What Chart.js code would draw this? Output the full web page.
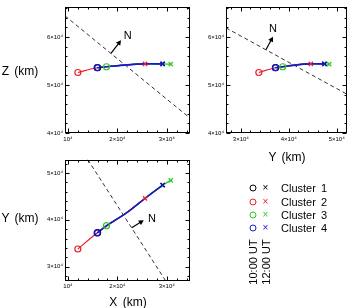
<!DOCTYPE html>
<html>
<head>
<meta charset="utf-8">
<script src="https://cdn.jsdelivr.net/npm/chart.js@4/dist/chart.umd.min.js"></script>
<style>
  body { margin: 0; background: #fff; }
  #wrap { position: relative; width: 352px; height: 308px; overflow: hidden; font-family: "Liberation Sans", Arial, sans-serif; color: #000; }
  canvas { position: absolute; }
  .lab { position: absolute; white-space: nowrap; transform: translate(-50%, -50%); line-height: 1; }
  .ttl { font-size: 12px; word-spacing: 2px; }
  .leg { position: absolute; font-size: 11px; line-height: 1; white-space: nowrap; transform: translateY(-50%); word-spacing: 2px; }
  .dot { position: absolute; width: 5px; height: 5px; border: 1px solid; border-radius: 50%; transform: translate(-50%, -50%); }
  .crs { position: absolute; font-size: 10px; line-height: 1; transform: translate(-50%, -55%); }
  .rot { position: absolute; font-size: 11px; line-height: 1; white-space: nowrap; transform: translate(-50%, -50%) rotate(-90deg); }
</style>
</head>
<body>
<div id="wrap">
  <canvas id="pXZ" width="200" height="154" style="left:0;top:0"></canvas>
  <canvas id="pYZ" width="176" height="154" style="left:176px;top:0"></canvas>
  <canvas id="pXY" width="200" height="154" style="left:0;top:154px"></canvas>
  <div class="lab ttl" style="left:20px;top:71px">Z (km)</div>
  <div class="lab ttl" style="left:287px;top:157px">Y (km)</div>
  <div class="lab ttl" style="left:20px;top:218px">Y (km)</div>
  <div class="lab ttl" style="left:128px;top:302px">X (km)</div>
  <div id="legend"></div>
</div>
<script>
const clusterLabels = ["Cluster 1", "Cluster 2", "Cluster 3", "Cluster 4"];
const clusterColors = ["#000000", "#f01c2c", "#2cc82c", "#1818d0"];
const timeLabels = ["10:00 UT", "12:00 UT"];

// points along each spacecraft track (km), first = 10:00 UT, last = 12:00 UT
const trackX = [
  [16000, 17800, 22000, 25600, 29200],
  [12000, 15900, 22000, 25600],
  [17800, 22000, 25600, 29100, 30800],
  [15900, 17800, 22000, 25600, 29100]
];
const trackY = [
  [37250, 38750, 41600, 44600, 47450],
  [33750, 37200, 41600, 44600],
  [38750, 41600, 44600, 47400, 48450],
  [37200, 38750, 41600, 44600, 47400]
];
const trackZ = [
  [53600, 53800, 54200, 54400, 54400],
  [52600, 53600, 54200, 54400],
  [53800, 54200, 54400, 54400, 54350],
  [53600, 53800, 54200, 54400, 54400]
];

// boundary (dashed) and its normal N, per projection
const mpXZx = [9400, 34700], mpXZz = [64400, 43100];
const mpYZy = [26900, 52100], mpYZz = [61900, 48100];
const mpXYx = [14000, 29800], mpXYy = [52900, 26900];
const nXZx = [18700, 20500], nXZz = [56600, 59000], nXZlab = [22100, 60200];
const nYZy = [35200, 36500], nYZz = [57300, 59700], nYZlab = [36700, 61700];
const nXYx = [22900, 25000], nXYy = [38300, 39700], nXYlab = [27000, 40200];

// axis ranges and tick values
const rangeX = [9400, 34700], rangeY = [26900, 52100], rangeY3 = [26900, 52900], rangeZ = [40000, 66250];
const ticksX = [10000, 20000, 30000];
const ticksY = [30000, 40000, 50000];
const ticksZ = [40000, 50000, 60000];
const minorStep = 2000;

function tickText(v) {
  const m = Math.round(v / 10000);
  return m === 1 ? "10\u2074" : m + "\u00d710\u2074";
}

function pts(a, b) {
  return a.map((v, i) => ({ x: v, y: b[i] }));
}

const frame = {
  id: "frame",
  afterDatasetsDraw(chart) {
    const { ctx, chartArea: a } = chart;
    const xs = chart.scales.x, ys = chart.scales.y;
    const l = Math.round(a.left) + 0.5, r = Math.round(a.right) - 0.5;
    const t = Math.round(a.top) + 0.5, b = Math.round(a.bottom) - 0.5;
    ctx.save();
    ctx.strokeStyle = "#000";
    ctx.lineWidth = 1;
    ctx.beginPath();
    const major = chart.options.plugins.frame;
    function ticksFor(scale, list) {
      const out = [];
      for (let v = Math.ceil(scale.min / minorStep) * minorStep; v <= scale.max; v += minorStep) {
        out.push({ v, len: list.includes(v) ? 4 : 2 });
      }
      return out;
    }
    ticksFor(xs, major.x).forEach((tk) => {
      const p = Math.round(xs.getPixelForValue(tk.v)) + 0.5;
      ctx.moveTo(p, b); ctx.lineTo(p, b - tk.len);
      ctx.moveTo(p, t); ctx.lineTo(p, t + tk.len);
    });
    ticksFor(ys, major.y).forEach((tk) => {
      const p = Math.round(ys.getPixelForValue(tk.v)) + 0.5;
      ctx.moveTo(l, p); ctx.lineTo(l + tk.len, p);
      ctx.moveTo(r, p); ctx.lineTo(r - tk.len, p);
    });
    ctx.stroke();
    ctx.strokeRect(l, t, r - l, b - t);

    // arrow heads on the normal
    chart.data.datasets.forEach((ds, i) => {
      if (!ds.arrow) return;
      const d = chart.getDatasetMeta(i).data;
      const p0 = d[0], p1 = d[d.length - 1];
      const ang = Math.atan2(p1.y - p0.y, p1.x - p0.x);
      ctx.fillStyle = "#000";
      ctx.beginPath();
      ctx.moveTo(p1.x + Math.cos(ang) * 2, p1.y + Math.sin(ang) * 2);
      ctx.lineTo(p1.x + Math.cos(ang + 2.4) * 4, p1.y + Math.sin(ang + 2.4) * 4);
      ctx.lineTo(p1.x + Math.cos(ang - 2.4) * 4, p1.y + Math.sin(ang - 2.4) * 4);
      ctx.closePath();
      ctx.fill();
    });

    // N label
    const nl = major.n;
    ctx.font = "11px 'Liberation Sans', Arial, sans-serif";
    ctx.textAlign = "center";
    ctx.textBaseline = "middle";
    ctx.fillStyle = "#000";
    ctx.fillText("N", xs.getPixelForValue(nl[0]), ys.getPixelForValue(nl[1]));
    ctx.restore();
  }
};

function buildPanel(id, cfg) {
  const datasets = [];
  const order = [3, 2, 1, 0]; // cluster 4 on top, then 3, 2, 1
  for (let c = 0; c < 4; c++) {
    const p = pts(cfg.h[c], cfg.v[c]);
    datasets.push({
      data: [p[0], p[p.length - 1]],
      showLine: false,
      pointStyle: ["circle", "crossRot"],
      pointRadius: 3,
      pointBorderWidth: 1.2,
      borderColor: clusterColors[c],
      backgroundColor: "rgba(0,0,0,0)",
      order: order[c]
    });
    datasets.push({
      data: p,
      showLine: true,
      tension: 0.3,
      pointRadius: 0,
      borderWidth: c === 3 ? 1.6 : 1.2,
      borderColor: clusterColors[c],
      order: 4 + order[c]
    });
  }
  datasets.push({
    data: pts(cfg.mp[0], cfg.mp[1]),
    showLine: true,
    pointRadius: 0,
    borderWidth: 1,
    borderDash: [4, 3],
    borderColor: "#333",
    order: 9
  });
  datasets.push({
    data: pts(cfg.n[0], cfg.n[1]),
    showLine: true,
    pointRadius: 0,
    borderWidth: 1.2,
    borderColor: "#000",
    arrow: true,
    order: 10
  });

  const tickFont = { size: 6, family: "'Liberation Sans', Arial, sans-serif" };
  return new Chart(document.getElementById(id), {
    type: "scatter",
    data: { datasets },
    plugins: [frame],
    options: {
      responsive: false,
      animation: false,
      events: [],
      layout: { padding: { top: cfg.padTop, right: cfg.padRight, left: 0, bottom: 0 } },
      plugins: {
        legend: { display: false },
        tooltip: { enabled: false },
        frame: { x: cfg.xt, y: cfg.yt, n: cfg.nl }
      },
      scales: {
        x: {
          type: "linear",
          min: cfg.xr[0],
          max: cfg.xr[1],
          afterFit: (s) => { s.height = cfg.xh; },
          afterBuildTicks: (s) => { s.ticks = cfg.xt.map((v) => ({ value: v })); },
          ticks: { callback: tickText, font: tickFont, color: "#000", padding: cfg.xpad, maxRotation: 0, autoSkip: false },
          grid: { display: false, drawTicks: false },
          border: { display: false }
        },
        y: {
          type: "linear",
          min: cfg.yr[0],
          max: cfg.yr[1],
          afterFit: (s) => { s.width = cfg.yw; },
          afterBuildTicks: (s) => { s.ticks = cfg.yt.map((v) => ({ value: v })); },
          ticks: { callback: tickText, font: tickFont, color: "#000", padding: 2, autoSkip: false },
          grid: { display: false, drawTicks: false },
          border: { display: false }
        }
      }
    }
  });
}

buildPanel("pXZ", {
  h: trackX, v: trackZ, mp: [mpXZx, mpXZz], n: [nXZx, nXZz], nl: nXZlab,
  xr: rangeX, yr: rangeZ, xt: ticksX, yt: ticksZ,
  padTop: 7, padRight: 10, xh: 21, yw: 65, xpad: 3
});
buildPanel("pYZ", {
  h: trackY, v: trackZ, mp: [mpYZy, mpYZz], n: [nYZy, nYZz], nl: nYZlab,
  xr: rangeY, yr: rangeZ, xt: [30000, 40000, 50000], yt: ticksZ,
  padTop: 7, padRight: 5, xh: 21, yw: 50, xpad: 3
});
buildPanel("pXY", {
  h: trackX, v: trackY, mp: [mpXYx, mpXYy], n: [nXYx, nXYy], nl: nXYlab,
  xr: rangeX, yr: rangeY3, xt: ticksX, yt: ticksY,
  padTop: 2, padRight: 10, xh: 27, yw: 65, xpad: 1.5
});

// legend
const leg = document.getElementById("legend");
const rowY = [188, 201.5, 215, 228];
clusterLabels.forEach((name, c) => {
  leg.insertAdjacentHTML("beforeend",
    `<div class="dot" style="left:253px;top:${rowY[c]}px;border-color:${clusterColors[c]}"></div>` +
    `<div class="crs" style="left:265.5px;top:${rowY[c]}px;color:${clusterColors[c]}">\u00d7</div>` +
    `<div class="leg" style="left:281px;top:${rowY[c]}px">${name}</div>`);
});
leg.insertAdjacentHTML("beforeend",
  `<div class="rot" style="left:253px;top:262px">${timeLabels[0]}</div>` +
  `<div class="rot" style="left:265.5px;top:262px">${timeLabels[1]}</div>`);
</script>
</body>
</html>
